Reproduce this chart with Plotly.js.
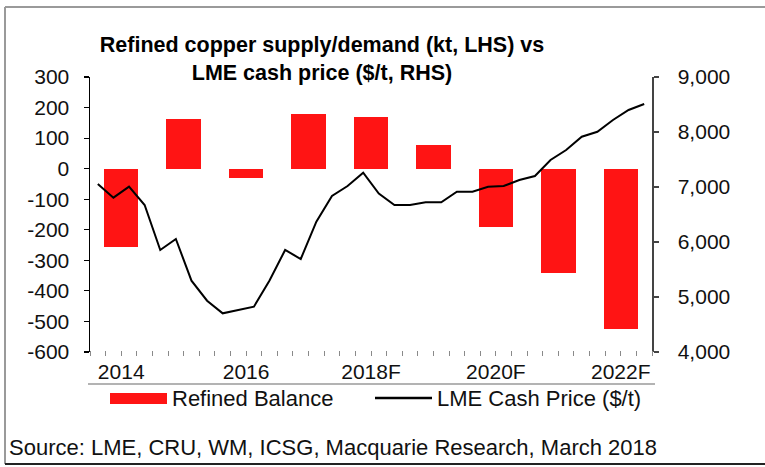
<!DOCTYPE html>
<html>
<head>
<meta charset="utf-8">
<script src="https://cdn.plot.ly/plotly-3.0.1.min.js"></script>
<style>
html,body{margin:0;padding:0;background:#fff;}
#chart{width:765px;height:467px;}
</style>
</head>
<body>
<div id="chart"></div>
<script>
// Annual refined copper balance (kt, LHS)
var years = ['2014','2015','2016','2017','2018F','2019F','2020F','2021F','2022F'];
var balance = [-257, 163, -30, 179, 168, 78, -191, -342, -525];
var yearLabels = ['2014','2016','2018F','2020F','2022F'];

// Quarterly LME cash price ($/t, RHS)
var quarters = ['1Q14','2Q14','3Q14','4Q14','1Q15','2Q15','3Q15','4Q15',
                '1Q16','2Q16','3Q16','4Q16','1Q17','2Q17','3Q17','4Q17',
                '1Q18','2Q18','3Q18','4Q18','1Q19','2Q19','3Q19','4Q19',
                '1Q20','2Q20','3Q20','4Q20','1Q21','2Q21','3Q21','4Q21',
                '1Q22','2Q22','3Q22','4Q22'];
var price = [7055, 6806, 7006, 6673, 5855, 6055, 5297, 4933,
             4703, 4764, 4824, 5300, 5855, 5691, 6369, 6836,
             7018, 7260, 6880, 6673, 6673, 6722, 6722, 6915,
             6915, 7005, 7018, 7127, 7200, 7491, 7673, 7915,
             8005, 8218, 8400, 8510];

// Axis tick values / labels
var leftTicks = [300, 200, 100, 0, -100, -200, -300, -400, -500, -600];
var leftTickText = ['300','200','100','0','-100','-200','-300','-400','-500','-600'];
var rightTicks = [4000, 5000, 6000, 7000, 8000, 9000];
var rightTickText = ['4,000','5,000','6,000','7,000','8,000','9,000'];

var FONT = 'Liberation Sans, Arial, sans-serif';
var TXT = '#111111';

// pixel -> paper helpers (plot area 90..652 x, 77..352 y)
function px(x){ return (x - 90) / 562; }
function py(y){ return (352 - y) / 275; }

var traces = [
  {
    type: 'bar', name: 'Refined Balance',
    x: years, y: balance, xaxis: 'x', yaxis: 'y',
    width: 0.55,
    marker: {color: '#ff1414', line: {width: 0}},
    showlegend: false, hoverinfo: 'x+y'
  },
  {
    type: 'scatter', mode: 'lines', name: 'LME Cash Price ($/t)',
    x: quarters, y: price, xaxis: 'x2', yaxis: 'y2',
    line: {color: '#000000', width: 2},
    showlegend: false, hoverinfo: 'x+y'
  }
];

var layout = {
  width: 765, height: 467,
  margin: {l: 90, r: 113, t: 77, b: 115, pad: 0},
  paper_bgcolor: '#ffffff', plot_bgcolor: '#ffffff',
  font: {family: FONT, color: TXT, size: 21},
  showlegend: false,
  bargap: 0,
  title: {
    text: '<b>Refined copper supply/demand (kt, LHS) vs<br>LME cash price ($/t, RHS)</b>',
    font: {family: FONT, size: 21.5, color: '#000'},
    x: 322 / 765, xref: 'container', xanchor: 'center',
    y: 1 - 52 / 467, yref: 'container', yanchor: 'top'
  },
  xaxis: {
    type: 'category', categoryarray: years, categoryorder: 'array',
    range: [-0.5, 8.5], fixedrange: true,
    tickmode: 'array', tickvals: yearLabels, ticktext: yearLabels,
    ticks: '', showline: false, showgrid: false, zeroline: false,
    tickfont: {family: FONT, size: 21, color: TXT},
    ticklabelstandoff: 5
  },
  xaxis2: {
    type: 'category', categoryarray: quarters, categoryorder: 'array',
    overlaying: 'x', side: 'bottom', anchor: 'free', position: 0.007,
    range: [-0.5, 35.5], fixedrange: true,
    tickmode: 'linear', tick0: 0, dtick: 1, tickson: 'boundaries',
    ticks: 'outside', ticklen: 5, tickwidth: 1, tickcolor: '#8a8a8a',
    showticklabels: false, showline: false, showgrid: false, zeroline: false
  },
  xaxis3: {
    type: 'linear', overlaying: 'x', side: 'bottom',
    anchor: 'free', position: 600 / 900,
    range: [0, 9], fixedrange: true,
    tickmode: 'array', tickvals: [1, 2, 3, 4, 5, 6, 7, 8],
    ticks: 'outside', ticklen: 5, tickwidth: 1.2, tickcolor: '#000',
    showticklabels: false, showline: true, linecolor: '#000', linewidth: 1.5,
    showgrid: false, zeroline: false
  },
  yaxis: {
    range: [-600, 300], fixedrange: true,
    tickmode: 'array', tickvals: leftTicks, ticktext: leftTickText,
    ticks: 'outside', ticklen: 5, tickwidth: 1.2, tickcolor: '#000',
    showline: true, linecolor: '#000', linewidth: 1.5,
    showgrid: false, zeroline: false,
    tickfont: {family: FONT, size: 21, color: TXT},
    ticklabelstandoff: 10
  },
  yaxis2: {
    overlaying: 'y', side: 'right', anchor: 'x',
    range: [4000, 9000], fixedrange: true,
    tickmode: 'array', tickvals: rightTicks, ticktext: rightTickText,
    ticks: 'outside', ticklen: 5, tickwidth: 1.2, tickcolor: '#444',
    showline: true, linecolor: '#444', linewidth: 1.5,
    showgrid: false, zeroline: false,
    tickfont: {family: FONT, size: 21, color: TXT},
    ticklabelstandoff: 15
  },
  shapes: [
    // outer frame (top + left, gray) and bottom rule (black)
    {type: 'line', xref: 'paper', yref: 'paper', x0: px(5), x1: px(770), y0: py(7), y1: py(7), line: {color: '#9a9a9a', width: 2}},
    {type: 'line', xref: 'paper', yref: 'paper', x0: px(5), x1: px(5), y0: py(7), y1: py(464), line: {color: '#9a9a9a', width: 2}},
    {type: 'line', xref: 'paper', yref: 'paper', x0: px(5), x1: px(770), y0: py(464), y1: py(464), line: {color: '#222', width: 2}},
    // separator above legend
    {type: 'line', xref: 'paper', yref: 'paper', x0: px(88), x1: px(655), y0: py(384), y1: py(384), line: {color: '#9a9a9a', width: 1.5}},
    // legend symbols
    {type: 'rect', xref: 'paper', yref: 'paper', x0: px(110), x1: px(167), y0: py(404), y1: py(393), fillcolor: '#ff1414', line: {width: 0}},
    {type: 'line', xref: 'paper', yref: 'paper', x0: px(375), x1: px(432), y0: py(398), y1: py(398), line: {color: '#000', width: 2.5}}
  ],
  annotations: [
    {text: 'Refined Balance', xref: 'paper', yref: 'paper', x: px(170), y: py(398),
     xanchor: 'left', yanchor: 'middle', showarrow: false, font: {family: FONT, size: 22, color: TXT}},
    {text: 'LME Cash Price ($/t)', xref: 'paper', yref: 'paper', x: px(435), y: py(398),
     xanchor: 'left', yanchor: 'middle', showarrow: false, font: {family: FONT, size: 22, color: TXT}},
    {text: 'Source: LME, CRU, WM, ICSG, Macquarie Research, March 2018', xref: 'paper', yref: 'paper',
     x: px(7), y: py(447), xanchor: 'left', yanchor: 'middle', showarrow: false,
     font: {family: FONT, size: 22, color: TXT}}
  ]
};

Plotly.newPlot('chart', traces, layout, {displayModeBar: false, staticPlot: true});
</script>
</body>
</html>
